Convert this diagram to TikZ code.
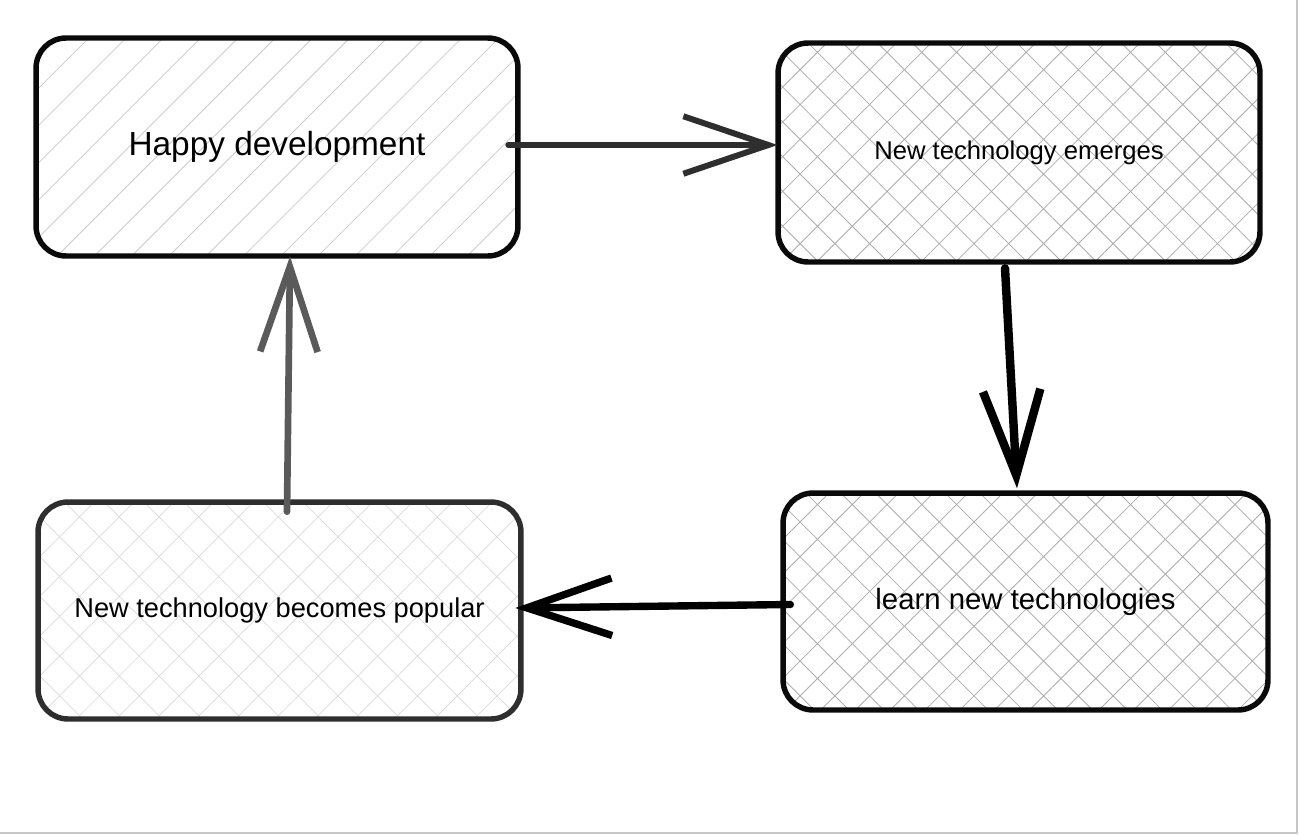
\documentclass[tikz,border=0pt]{standalone}
\usepackage{fontspec}
\setmainfont{Liberation Sans}
\usetikzlibrary{arrows.meta,patterns.meta}
\definecolor{ink}{HTML}{0A0A0A}
\definecolor{inkgray}{HTML}{2E2E2E}
\definecolor{arrgray}{HTML}{5A5A5A}
\tikzset{
  box/.style={rectangle, rounded corners=0.6cm, line width=3.1pt, draw=ink,
    inner sep=0pt, align=center, text=black},
  hatchA/.style={pattern={Lines[angle=45,distance=15pt,line width=0.45pt]}, pattern color=black!20},
  hatchB/.style={pattern={Hatch[angle=45,distance=14pt,line width=0.45pt]}, pattern color=black!32},
  hatchC/.style={pattern={Hatch[angle=45,distance=16pt,line width=0.4pt]}, pattern color=black!14},
  barb/.style={-{Straight Barb[length=1.7cm,width=1.15cm]}, line cap=round, line join=round},
}
\begin{document}
\begin{tikzpicture}[x=0.02cm,y=-0.02cm]
\useasboundingbox (0,0) rectangle (1300,835);
\fill[white] (0,0) rectangle (1300,835);
\draw[black!22, line width=1.2pt] (1297,0) -- (1297,833) -- (0,833);

\node[box, hatchA, minimum width=9.64cm, minimum height=4.36cm] (b1) at (277,147)
  {\fontsize{19pt}{23pt}\selectfont Happy development};
\node[box, hatchB, minimum width=9.64cm, minimum height=4.38cm] (b2) at (1019,152.5)
  {\fontsize{14.6pt}{18pt}\selectfont New technology emerges};
\node[box, hatchB, minimum width=9.7cm, minimum height=4.34cm] (b3) at (1025.5,601.5)
  {\fontsize{16.7pt}{20pt}\selectfont learn new technologies};
\node[box, hatchC, draw=inkgray, minimum width=9.66cm, minimum height=4.34cm] (b4) at (279.5,610.5)
  {\fontsize{15.5pt}{19pt}\selectfont New technology becomes popular};

\draw[barb, line width=3.4pt, draw=inkgray] ([xshift=-0.2cm,yshift=0.04cm]b1.east) -- ([yshift=0.04cm]b2.west |- b1.east);
\draw[barb, line width=4.8pt, draw=black] ([xshift=-0.28cm,yshift=-0.12cm]b2.south) -- ([xshift=-0.17cm,yshift=0.04cm]b3.north);
\draw[barb, line width=4.2pt, draw=black] ([xshift=0.2cm,yshift=-0.06cm]b3.west) -- ([xshift=-0.12cm,yshift=0.05cm]b4.east);
\draw[barb, line width=3.8pt, draw=arrgray] ([xshift=0.15cm,yshift=-0.2cm]b4.north) -- ([xshift=0.26cm]b1.south);
\end{tikzpicture}
\end{document}
